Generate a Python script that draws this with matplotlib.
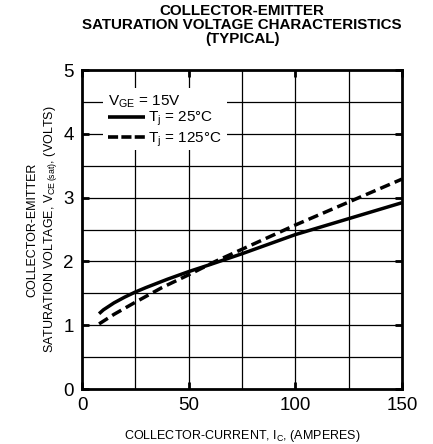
import matplotlib
matplotlib.use("Agg")
import matplotlib.pyplot as plt
import numpy as np

plt.rcParams['font.family'] = ['Liberation Sans', 'DejaVu Sans']
plt.rcParams['mathtext.fontset'] = 'custom'
plt.rcParams['mathtext.rm'] = 'Liberation Sans'

ic_25 = [8, 10, 15, 20, 25, 30, 40, 50, 60, 75, 100, 125, 150]
v_25 = [1.18, 1.24, 1.35, 1.44, 1.52, 1.59, 1.72, 1.84, 1.95, 2.12, 2.42, 2.67, 2.92]
ic_125 = [8, 15, 25, 37.5, 50, 62.5, 75, 100, 125, 150]
v_125 = [1.02, 1.17, 1.36, 1.59, 1.79, 2.0, 2.19, 2.57, 2.93, 3.29]

xticks = [0, 50, 100, 150]
yticks = [0, 1, 2, 3, 4, 5]

fig = plt.figure(figsize=(4.33, 4.44), dpi=100)
ax = fig.add_axes([82/433, 1-389/444, 320/433, 319/444])

for x in np.arange(25, 150, 25):
    ax.axvline(x, color='black', lw=0.9, zorder=1)
for y in np.arange(0.5, 5, 0.5):
    ax.axhline(y, color='black', lw=0.9, zorder=1)

ax.plot(ic_25, v_25, color='black', lw=2.5, solid_capstyle='butt', zorder=3)
ax.plot(ic_125, v_125, color='black', lw=2.5, ls=(0, (3.0, 1.5)), zorder=3)

ax.set_xlim(0, 150)
ax.set_ylim(0, 5)
ax.set_xticks(xticks)
ax.set_yticks(yticks)
ax.tick_params(direction='in', length=5, width=2, labelsize=13.5, top=True, right=True, pad=6)
for s in ax.spines.values():
    s.set_linewidth(2)

# legend block
ax.add_patch(plt.Rectangle((9.8, 3.75), 58, 0.97, facecolor='white', edgecolor='none', zorder=2))
ax.text(12.2, 4.45, r'V$_{\mathregular{GE}}$ = 15V', fontsize=11, va='baseline', ha='left', zorder=4)
ax.plot([12.2, 29.5], [4.26, 4.26], color='black', lw=2.6, solid_capstyle='butt', zorder=4)
ax.text(31, 4.2, r'T$_{\mathregular{j}}$ = 25°C', fontsize=11, va='baseline', ha='left', zorder=4)
ax.plot([12.2, 29.5], [3.95, 3.95], color='black', lw=2.6, ls=(0, (2.8, 0.9)), zorder=4)
ax.text(31, 3.86, r'T$_{\mathregular{j}}$ = 125°C', fontsize=11, va='baseline', ha='left', zorder=4)

fig.text(242/433, 1-4/444, 'COLLECTOR-EMITTER\nSATURATION VOLTAGE CHARACTERISTICS\n(TYPICAL)',
         ha='center', va='top', fontsize=10.9, fontweight='bold', linespacing=1.0)
ax.set_xlabel(r'COLLECTOR-CURRENT, I$_{\mathregular{C}}$, (AMPERES)', fontsize=9, labelpad=10)
ax.set_ylabel('COLLECTOR-EMITTER\nSATURATION VOLTAGE, V$_{\\mathregular{CE\\,(sat)}}$, (VOLTS)', fontsize=9, labelpad=3, linespacing=1.3)

fig.savefig('out.png', dpi=100)
